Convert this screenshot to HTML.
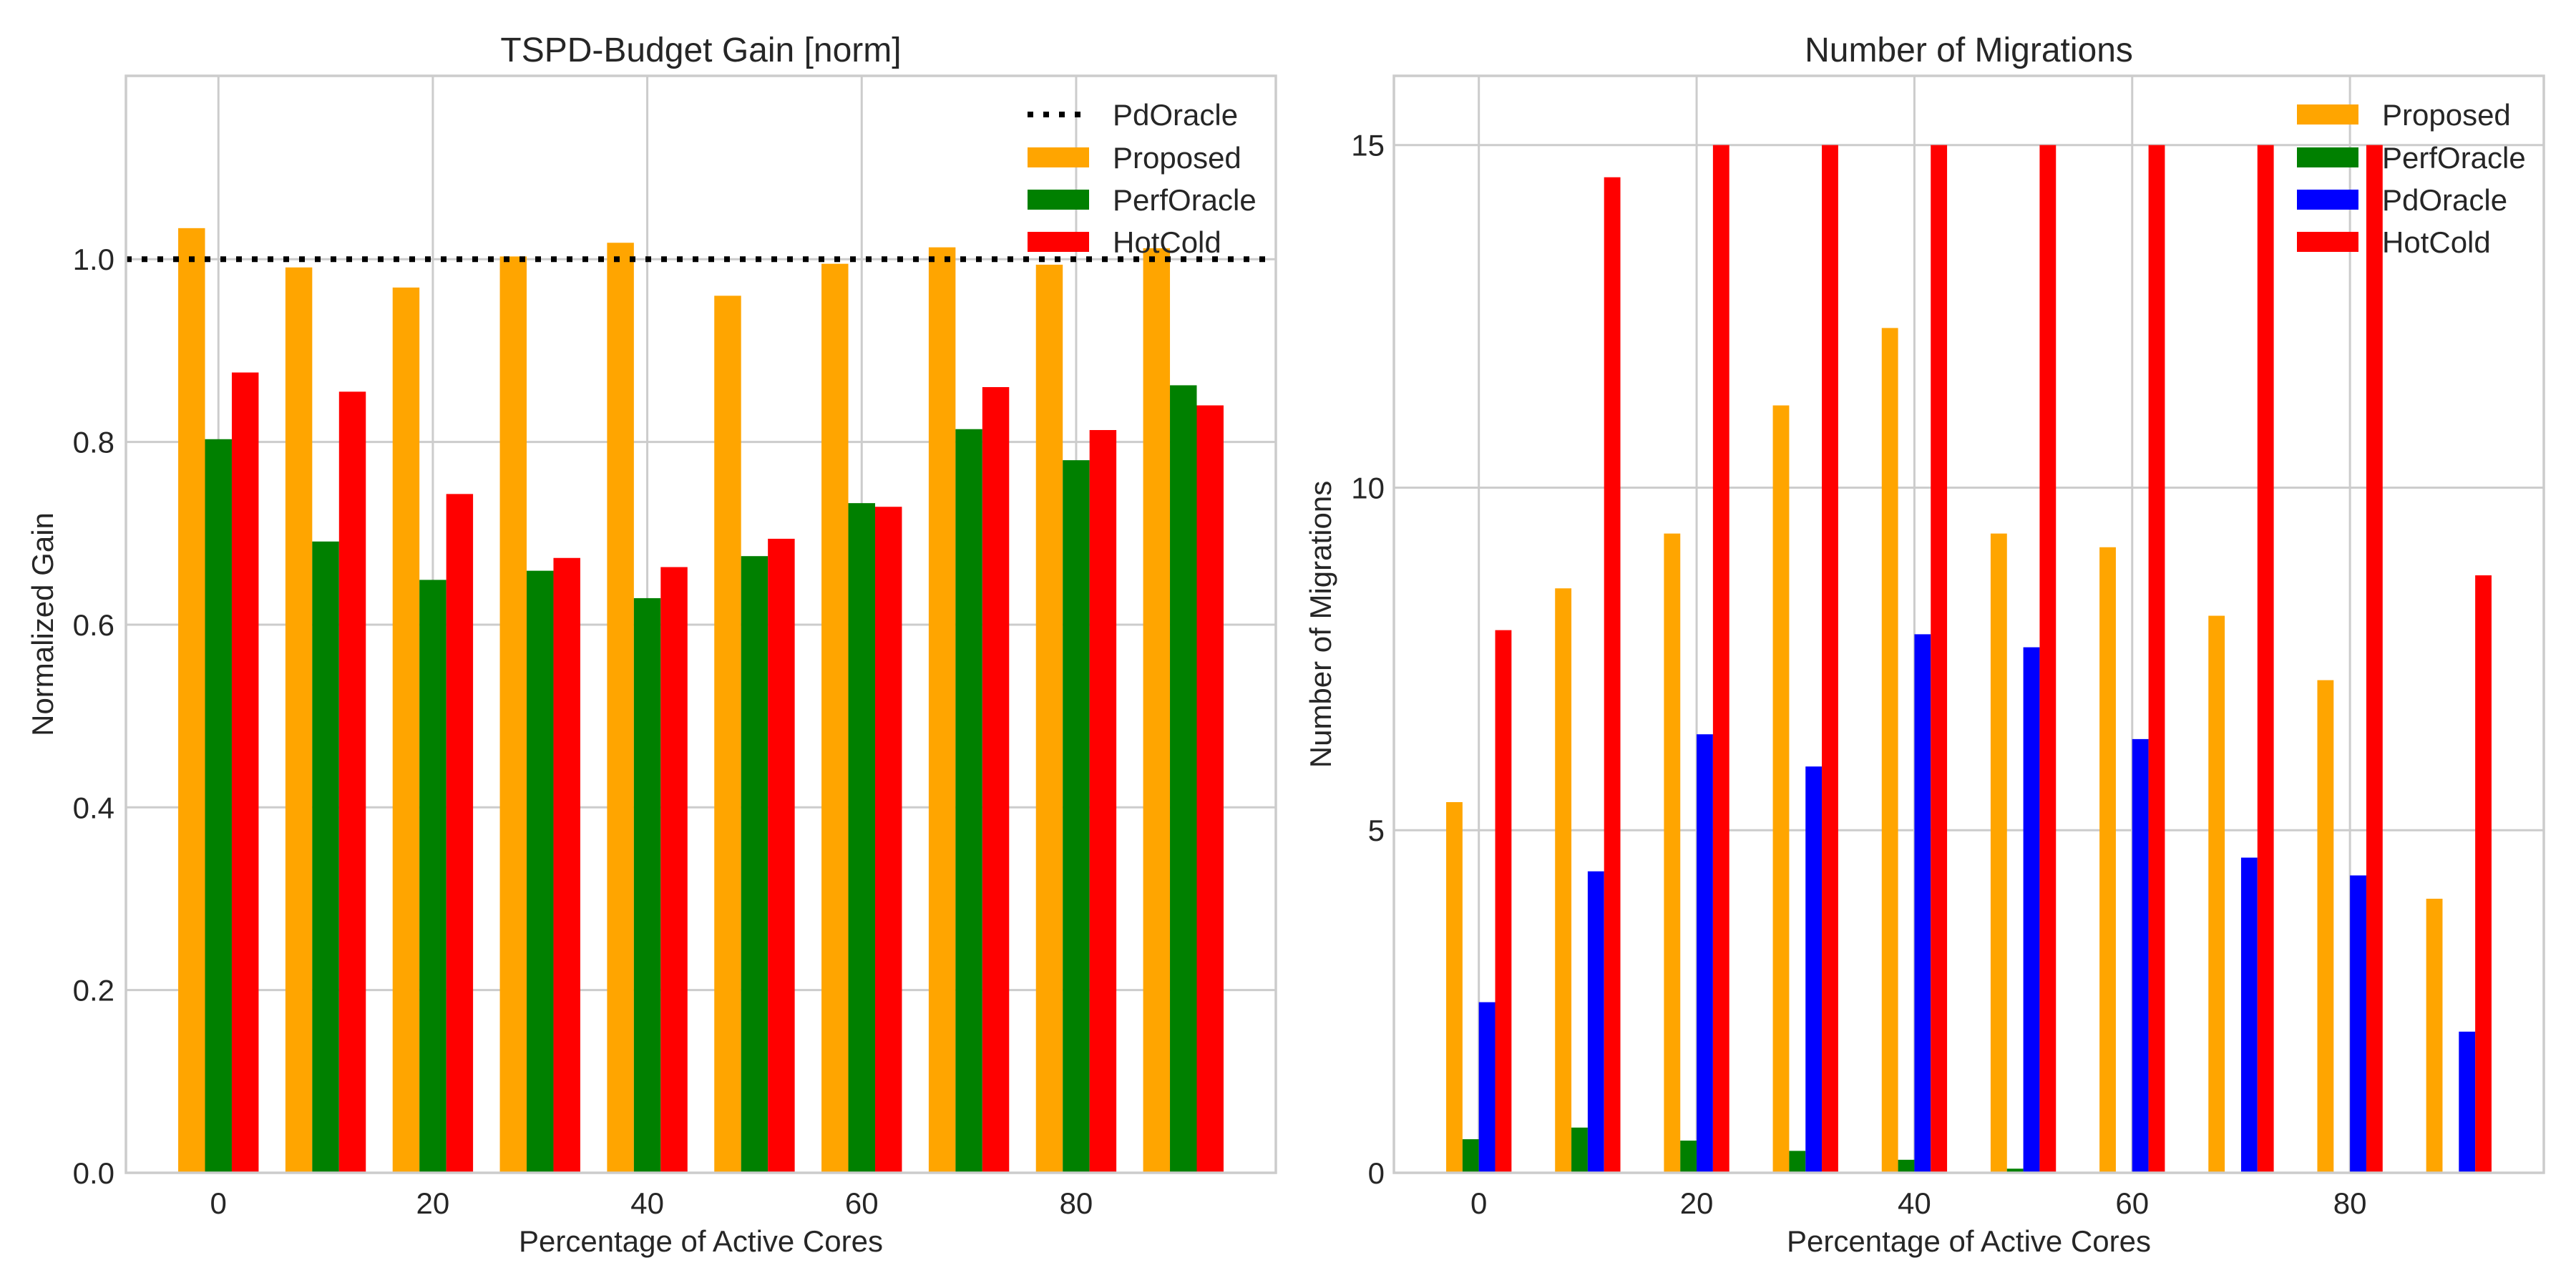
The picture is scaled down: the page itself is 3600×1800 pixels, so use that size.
<!DOCTYPE html>
<html><head><meta charset="utf-8"><style>
html,body{margin:0;padding:0;background:#fff;}
svg{display:block;font-family:"Liberation Sans",Arial,sans-serif;}
</style></head><body>
<svg id="chart" width="3600" height="1800" viewBox="0 0 3600 1800"></svg>
<script>
const xCategories = [0,10,20,30,40,50,60,70,80,90];
const gainProposed = [1.034,0.991,0.969,1.003,1.018,0.960,0.995,1.013,0.994,1.012];
const gainPerfOracle = [0.803,0.691,0.649,0.659,0.629,0.675,0.733,0.814,0.780,0.862];
const gainHotCold = [0.876,0.855,0.743,0.673,0.663,0.694,0.729,0.860,0.813,0.840];
const gainPdOracleLevel = 1.0;
const migProposed = [5.41,8.53,9.33,11.2,12.33,9.33,9.13,8.13,7.19,4.0];
const migPerfOracle = [0.49,0.66,0.47,0.32,0.19,0.06,0,0,0,0];
const migPdOracle = [2.49,4.40,6.40,5.93,7.86,7.67,6.33,4.60,4.34,2.06];
const migHotCold = [7.92,14.53,15,15,15,15,15,15,15,8.72];
const xTicks = [0,20,40,60,80];
const gainYTicks = [0,0.2,0.4,0.6,0.8,1.0];
const gainYTickLabels = ["0.0","0.2","0.4","0.6","0.8","1.0"];
const migYTicks = [0,5,10,15];
const migYTickLabels = ["0","5","10","15"];

const NS='http://www.w3.org/2000/svg';
const svg=document.getElementById('chart');
function mk(tag,attrs,parent){const e=document.createElementNS(NS,tag);for(const k in attrs)e.setAttribute(k,attrs[k]);(parent||svg).appendChild(e);return e;}
const TXT='#262626', GRID='#cccccc';

function panel(o){
  const g=mk('g',{});
  
  
  const sx=v=>o.left+(v-o.xmin)/(o.xmax-o.xmin)*(o.right-o.left);
  const sy=v=>o.bottom-(v-o.ymin)/(o.ymax-o.ymin)*(o.bottom-o.top);
  o.xticks.forEach(t=>{
    const l=mk('line',{x1:sx(t),x2:sx(t),y1:o.top,y2:o.bottom,stroke:GRID,'stroke-width':3},g);
    
    
    const tx=mk('text',{x:sx(t),y:1696,'text-anchor':'middle','font-size':42,fill:TXT},g);
    tx.textContent=t;
    
    
  });
  o.yticks.forEach((t,i)=>{
    const l=mk('line',{x1:o.left,x2:o.right,y1:sy(t),y2:sy(t),stroke:GRID,'stroke-width':3},g);
    
    
    const tx=mk('text',{x:o.ytickX,y:sy(t)+15,'text-anchor':'end','font-size':42,fill:TXT},g);
    tx.textContent=o.ytickLabels[i];
    
    
  });
  o.series.forEach((s,si)=>{
    const off=(si-(o.series.length-1)/2)*o.bw;
    s.values.forEach((v,i)=>{
      const x0=sx(xCategories[i]+off-o.bw/2), x1=sx(xCategories[i]+off+o.bw/2);
      const r=mk('rect',{x:x0,y:sy(v),width:x1-x0,height:sy(0)-sy(v),fill:s.color},g);
      
      
    });
  });
  if(o.hline!==undefined){
    const l=mk('line',{x1:o.left,x2:o.right,y1:sy(o.hline),y2:sy(o.hline),stroke:'#000','stroke-width':8,'stroke-dasharray':'8 14'},g);
    
    
  }
  const fr=mk('rect',{x:o.left,y:o.top,width:o.right-o.left,height:o.bottom-o.top,fill:'none',stroke:GRID,'stroke-width':3.5},g);
  
  
  const cx=(o.left+o.right)/2;
  const ti=mk('text',{x:cx,y:86,'text-anchor':'middle','font-size':48,fill:TXT},g);
  ti.textContent=o.title;
  
  
  const xl=mk('text',{x:cx,y:1749,'text-anchor':'middle','font-size':42,fill:TXT},g);
  xl.textContent='Percentage of Active Cores';
  
  
  const yc=(o.top+o.bottom)/2;
  const yl=mk('text',{x:o.ylabelX,y:yc,'text-anchor':'middle','font-size':42,fill:TXT,transform:'rotate(-90 '+o.ylabelX+' '+yc+')'},g);
  yl.textContent=o.ylabel;
  
  
  const rows=[168,228,287,346];
  o.legend.forEach((e,i)=>{
    const lg=mk('g',{},g);
    
    
    if(e.dotted){
      mk('line',{x1:o.legX,x2:o.legX+87,y1:rows[i]-8,y2:rows[i]-8,stroke:'#000','stroke-width':8,'stroke-dasharray':'8 14'},lg);
    } else {
      mk('rect',{x:o.legX,y:rows[i]-22,width:86,height:28,fill:e.color},lg);
    }
    const t=mk('text',{x:o.legX+119,y:rows[i]+7,'font-size':42,fill:TXT},lg);
    t.textContent=e.label;
  });
}

panel({name:'gain-chart',title:'TSPD-Budget Gain [norm]',ylabel:'Normalized Gain',
  left:176,right:1783,top:106,bottom:1639,xmin:-8.625,xmax:98.625,ymin:0,ymax:1.2007,
  xticks:xTicks,yticks:gainYTicks,ytickLabels:gainYTickLabels,ytickX:160,ylabelX:74,bw:2.5,
  series:[{key:'proposed',values:gainProposed,color:'#ffa500'},{key:'perforacle',values:gainPerfOracle,color:'#008000'},{key:'hotcold',values:gainHotCold,color:'#ff0000'}],
  hline:gainPdOracleLevel,legX:1436,
  legend:[{key:'pdoracle',label:'PdOracle',dotted:true},{key:'proposed',label:'Proposed',color:'#ffa500'},{key:'perforacle',label:'PerfOracle',color:'#008000'},{key:'hotcold',label:'HotCold',color:'#ff0000'}]});

panel({name:'migrations-chart',title:'Number of Migrations',ylabel:'Number of Migrations',
  left:1948,right:3555,top:106,bottom:1639,xmin:-7.8,xmax:97.8,ymin:0,ymax:16.01,
  xticks:xTicks,yticks:migYTicks,ytickLabels:migYTickLabels,ytickX:1935,ylabelX:1860,bw:1.5,
  series:[{key:'proposed',values:migProposed,color:'#ffa500'},{key:'perforacle',values:migPerfOracle,color:'#008000'},{key:'pdoracle',values:migPdOracle,color:'#0000ff'},{key:'hotcold',values:migHotCold,color:'#ff0000'}],
  legX:3210,
  legend:[{key:'proposed',label:'Proposed',color:'#ffa500'},{key:'perforacle',label:'PerfOracle',color:'#008000'},{key:'pdoracle',label:'PdOracle',color:'#0000ff'},{key:'hotcold',label:'HotCold',color:'#ff0000'}]});
</script>
</body></html>
